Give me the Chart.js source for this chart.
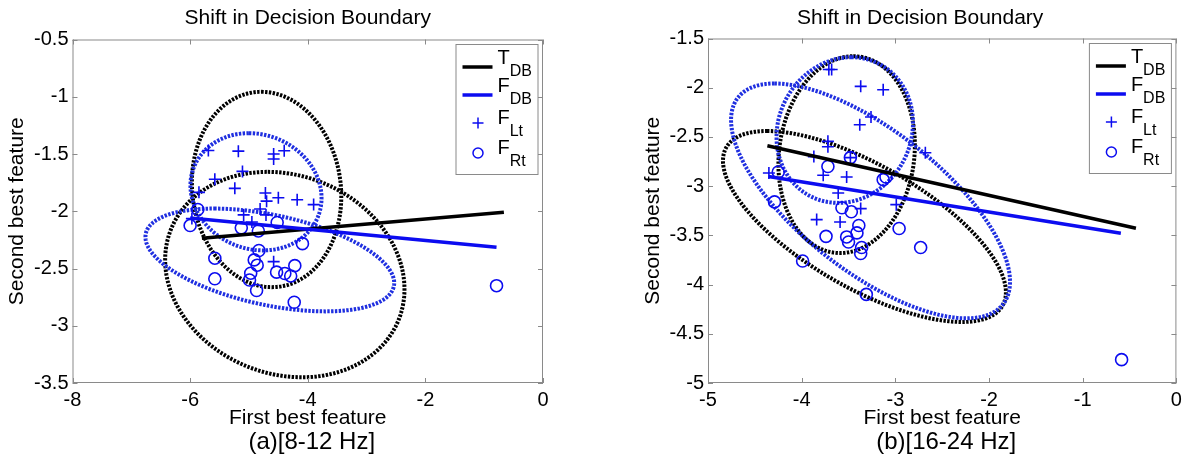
<!DOCTYPE html>
<html>
<head>
<meta charset="utf-8">
<script src="https://cdn.jsdelivr.net/npm/chart.js@4.4.1/dist/chart.umd.min.js"></script>
<style>
  html, body { margin: 0; padding: 0; background: #fff; }
  #wrap { position: relative; width: 1184px; height: 460px; overflow: hidden; }
  .panel { position: absolute; top: 0; width: 592px; height: 460px; }
</style>
</head>
<body>
<div id="wrap">
  <div class="panel" style="left:0"><canvas id="chartA"></canvas></div>
  <div class="panel" style="left:592px"><canvas id="chartB"></canvas></div>
</div>
<script>
/* ── Data: panel (a) 8-12 Hz ─────────────────────────────── */
const xTicksA = [-8, -6, -4, -2, 0];
const yTicksA = [-3.5, -3, -2.5, -2, -1.5, -1, -0.5];
const tdbA = [[-5.80, -2.236], [-0.665, -2.009]];
const fdbA = [[-6.0, -2.058], [-0.79, -2.315]];
const ltA = [[-5.69,-1.47],[-5.18,-1.475],[-4.58,-1.50],[-4.58,-1.544],[-4.40,-1.472],[-5.11,-1.652],
  [-5.58,-1.72],[-5.24,-1.80],[-5.85,-1.835],[-4.72,-1.84],[-4.70,-1.912],[-4.50,-1.882],[-4.18,-1.90],
  [-3.90,-1.942],[-4.81,-1.98],[-5.09,-2.032],[-4.71,-2.032],[-4.95,-2.094],[-5.97,-2.064],[-4.58,-2.44]];
const rtA = [[-6.0,-2.125],[-5.87,-1.985],[-5.13,-2.145],[-4.84,-2.172],[-4.52,-2.098],[-4.83,-2.343],
  [-4.09,-2.283],[-5.58,-2.41],[-4.91,-2.425],[-4.86,-2.471],[-4.97,-2.541],[-4.99,-2.60],[-5.58,-2.59],
  [-4.87,-2.692],[-4.53,-2.532],[-4.39,-2.544],[-4.29,-2.565],[-4.22,-2.475],[-4.23,-2.795],[-0.79,-2.65]];
// ellipses: [centre x, centre y, top-point offset x, top-point offset y, half width at centre]
const ellBlackA = [[-4.70, -1.81, -0.09, 0.853, 1.267], [-4.39, -2.553, -0.29, 0.897, 2.014]];
const ellBlueA = [[-4.88, -1.83, -0.12, 0.512, 1.108], [-4.645, -2.4255, -0.945, 0.449, 1.892]];

/* ── Data: panel (b) 16-24 Hz ────────────────────────────── */
const xTicksB = [-5, -4, -3, -2, -1, 0];
const yTicksB = [-5, -4.5, -4, -3.5, -3, -2.5, -2, -1.5];
const tdbB = [[-4.366, -2.589], [-0.432, -3.428]];
const fdbB = [[-4.354, -2.903], [-0.593, -3.478]];
const ltB = [[-3.71,-1.815],[-3.68,-1.815],[-3.37,-1.986],[-3.13,-2.02],[-3.38,-2.376],[-3.26,-2.298],
  [-2.68,-2.66],[-3.72,-2.545],[-3.72,-2.60],[-3.87,-2.70],[-3.48,-2.71],[-4.35,-2.866],[-3.77,-2.89],
  [-3.52,-2.907],[-3.61,-3.07],[-3.37,-3.228],[-2.99,-3.188],[-3.84,-3.34],[-3.59,-3.364]];
const rtB = [[-4.25,-2.856],[-4.29,-3.16],[-3.72,-2.80],[-3.48,-2.71],[-3.13,-2.934],[-3.10,-2.907],
  [-3.57,-3.22],[-3.47,-3.26],[-3.39,-3.40],[-3.41,-3.475],[-3.74,-3.51],[-3.52,-3.516],[-3.50,-3.567],
  [-3.36,-3.624],[-3.37,-3.685],[-2.96,-3.43],[-2.73,-3.624],[-3.99,-3.76],[-3.31,-4.10],[-0.585,-4.763]];
const ellBlackB = [[-3.52, -2.68, 0.07, 1.0, 0.725], [-3.33, -3.41, -1.04, 0.97, 1.095]];
const ellBlueB = [[-3.54, -2.43, 0.07, 0.74, 0.725], [-3.265, -3.15, -1.025, 1.193, 1.08]];

/* ── Styling ─────────────────────────────────────────────── */
const FONT = "'Liberation Sans', Arial, sans-serif";
const BLUE = '#0c0cf0';
const ELL_BLUE = '#1f2fe0';
const FRAME = '#8a8a8a';

const toPts = arr => arr.map(([x, y]) => ({ x, y }));

/* ── MATLAB-look decorations ─────────────────────────────── */
function drawEllipse(ctx, xs, ys, e) {
  const [cx, cy, ux, uy, w] = e;
  ctx.beginPath();
  for (let i = 0; i <= 200; i++) {
    const t = i / 200 * Math.PI * 2;
    const px = xs.getPixelForValue(cx + ux * Math.cos(t) + w * Math.sin(t));
    const py = ys.getPixelForValue(cy + uy * Math.cos(t));
    if (i === 0) ctx.moveTo(px, py); else ctx.lineTo(px, py);
  }
  ctx.stroke();
}

function drawSubLabel(ctx, x, y, main, sub) {
  ctx.fillStyle = '#000';
  ctx.textBaseline = 'middle';
  ctx.textAlign = 'left';
  ctx.font = `20px ${FONT}`;
  ctx.fillText(main, x, y - 5);
  const mw = ctx.measureText(main).width;
  ctx.font = `16px ${FONT}`;
  ctx.fillText(sub, x + mw, y + 9);
}

const matlabPlugin = {
  id: 'matlabLook',
  beforeDatasetsDraw(chart, args, opts) {
    const { ctx, chartArea: ca, scales: { x, y } } = chart;
    ctx.save();
    ctx.beginPath();
    ctx.rect(ca.left, ca.top, ca.right - ca.left, ca.bottom - ca.top);
    ctx.clip();
    ctx.lineWidth = 4;
    ctx.lineCap = 'butt';
    ctx.setLineDash([2.4, 1.4]);
    ctx.strokeStyle = '#000';
    opts.black.forEach(e => drawEllipse(ctx, x, y, e));
    ctx.strokeStyle = ELL_BLUE;
    opts.blue.forEach(e => drawEllipse(ctx, x, y, e));
    ctx.restore();
  },
  afterDraw(chart, args, opts) {
    const { ctx, chartArea: ca, scales: { x, y } } = chart;
    ctx.save();
    // frame + inward ticks
    ctx.strokeStyle = FRAME;
    ctx.lineWidth = 1;
    ctx.strokeRect(ca.left + 0.5, ca.top + 0.5, ca.right - ca.left - 1, ca.bottom - ca.top - 1);
    ctx.beginPath();
    x.ticks.forEach(t => {
      const px = Math.round(x.getPixelForValue(t.value)) + 0.5;
      ctx.moveTo(px, ca.bottom); ctx.lineTo(px, ca.bottom - 5);
      ctx.moveTo(px, ca.top); ctx.lineTo(px, ca.top + 5);
    });
    y.ticks.forEach(t => {
      const py = Math.round(y.getPixelForValue(t.value)) + 0.5;
      ctx.moveTo(ca.left, py); ctx.lineTo(ca.left + 5, py);
      ctx.moveTo(ca.right, py); ctx.lineTo(ca.right - 5, py);
    });
    ctx.stroke();

    // legend
    const bw = 82, bh = 130;
    const bx = ca.right - 5.5 - bw, by = ca.top + 4.5;
    ctx.fillStyle = '#fff';
    ctx.fillRect(bx, by, bw, bh);
    ctx.strokeStyle = FRAME;
    ctx.strokeRect(bx + 0.5, by + 0.5, bw, bh);
    const rows = [19, 47, 79, 109].map(d => by + d);
    ctx.lineWidth = 3.5;
    ctx.strokeStyle = '#000';
    ctx.beginPath(); ctx.moveTo(bx + 7, rows[0] + 4); ctx.lineTo(bx + 37, rows[0] + 4); ctx.stroke();
    ctx.strokeStyle = BLUE;
    ctx.beginPath(); ctx.moveTo(bx + 7, rows[1] + 4); ctx.lineTo(bx + 37, rows[1] + 4); ctx.stroke();
    ctx.lineWidth = 1.5;
    ctx.beginPath();
    ctx.moveTo(bx + 17, rows[2]); ctx.lineTo(bx + 28, rows[2]);
    ctx.moveTo(bx + 22.5, rows[2] - 5.5); ctx.lineTo(bx + 22.5, rows[2] + 5.5);
    ctx.stroke();
    ctx.beginPath(); ctx.arc(bx + 22.5, rows[3], 5, 0, Math.PI * 2); ctx.stroke();
    drawSubLabel(ctx, bx + 42, rows[0], 'T', 'DB');
    drawSubLabel(ctx, bx + 42, rows[1], 'F', 'DB');
    drawSubLabel(ctx, bx + 42, rows[2], 'F', 'Lt');
    drawSubLabel(ctx, bx + 42, rows[3], 'F', 'Rt');

    // title and caption
    ctx.fillStyle = '#000';
    ctx.textAlign = 'center';
    ctx.textBaseline = 'middle';
    const mid = (ca.left + ca.right) / 2;
    ctx.font = `21px ${FONT}`;
    ctx.fillText('Shift in Decision Boundary', mid + opts.titleShift, 18);
    ctx.font = `24px ${FONT}`;
    ctx.fillText(opts.caption, mid + 4, 442);
    ctx.restore();
  }
};

function makePanel(canvasId, cfg) {
  const tickFont = { family: FONT, size: 20 };
  const titleFont = { family: FONT, size: 21 };
  return new Chart(document.getElementById(canvasId), {
    type: 'scatter',
    data: {
      datasets: [
        { label: 'T_DB', data: toPts(cfg.tdb), showLine: true, borderColor: '#000', borderWidth: 3.5,
          pointRadius: 0, order: 2 },
        { label: 'F_DB', data: toPts(cfg.fdb), showLine: true, borderColor: BLUE, borderWidth: 3.5,
          pointRadius: 0, order: 1 },
        { label: 'F_Lt', data: toPts(cfg.lt), pointStyle: 'cross', pointRadius: 6, borderColor: BLUE,
          borderWidth: 1.6, order: 3 },
        { label: 'F_Rt', data: toPts(cfg.rt), pointStyle: 'circle', pointRadius: 6, borderColor: BLUE,
          backgroundColor: 'rgba(0,0,0,0)', borderWidth: 1.6, order: 4 }
      ]
    },
    options: {
      responsive: true, maintainAspectRatio: false, animation: false,
      devicePixelRatio: 1,
      layout: { padding: cfg.padding },
      plugins: {
        legend: { display: false },
        tooltip: { enabled: false },
        matlabLook: { black: cfg.black, blue: cfg.blue, caption: cfg.caption, titleShift: cfg.titleShift }
      },
      scales: {
        x: {
          type: 'linear', min: cfg.xTicks[0], max: cfg.xTicks[cfg.xTicks.length - 1],
          afterBuildTicks: s => { s.ticks = cfg.xTicks.map(v => ({ value: v })); },
          afterFit: s => { s.height = 49; s.paddingLeft = 0; s.paddingRight = 0; },
          grid: { display: false, drawTicks: false },
          border: { display: false },
          ticks: { color: '#000', font: tickFont, padding: 5, maxRotation: 0, autoSkip: false,
            callback: v => String(v) },
          title: { display: true, text: 'First best feature', color: '#000', font: titleFont,
            padding: { top: 0, bottom: 1 } }
        },
        y: {
          type: 'linear', min: cfg.yTicks[0], max: cfg.yTicks[cfg.yTicks.length - 1],
          afterBuildTicks: s => { s.ticks = cfg.yTicks.map(v => ({ value: v })); },
          afterFit: s => { s.width = cfg.yWidth; s.paddingTop = 0; s.paddingBottom = 0; },
          grid: { display: false, drawTicks: false },
          border: { display: false },
          ticks: { color: '#000', font: tickFont, padding: 4, autoSkip: false,
            callback: v => String(v) },
          title: { display: true, text: 'Second best feature', color: '#000', font: titleFont,
            padding: { top: 5, bottom: 0 } }
        }
      }
    },
    plugins: [matlabPlugin]
  });
}

makePanel('chartA', {
  xTicks: xTicksA, yTicks: yTicksA, tdb: tdbA, fdb: fdbA, lt: ltA, rt: rtA,
  black: ellBlackA, blue: ellBlueA, caption: '(a)[8-12 Hz]', titleShift: 0,
  padding: { left: 0, right: 49, top: 39.5, bottom: 28 }, yWidth: 72.5
});
makePanel('chartB', {
  xTicks: xTicksB, yTicks: yTicksB, tdb: tdbB, fdb: fdbB, lt: ltB, rt: rtB,
  black: ellBlackB, blue: ellBlueB, caption: '(b)[16-24 Hz]', titleShift: -22,
  padding: { left: 44, right: 4, top: 38.5, bottom: 28 }, yWidth: 72
});
</script>
</body>
</html>
